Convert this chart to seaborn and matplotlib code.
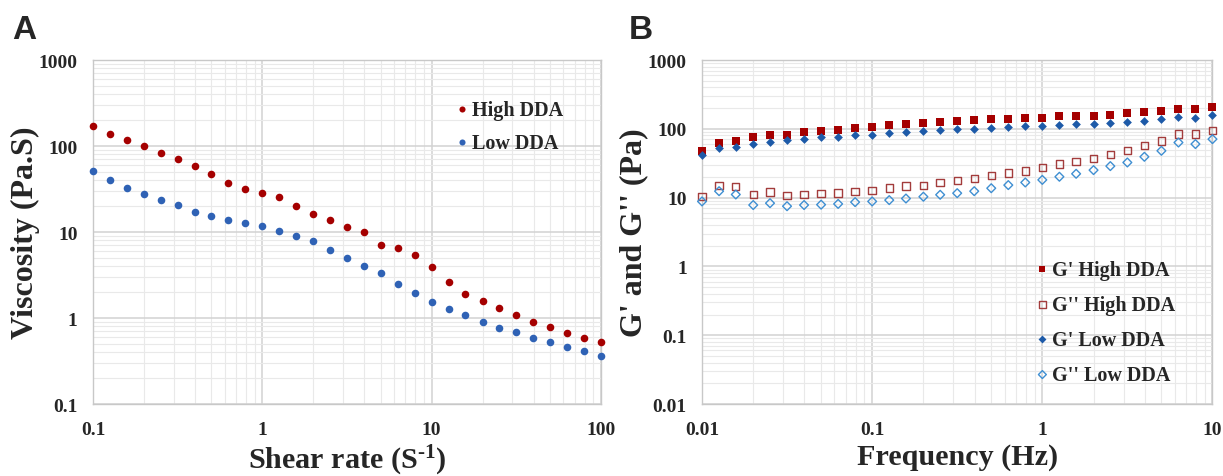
import matplotlib
matplotlib.use('Agg')
import matplotlib.pyplot as plt
from matplotlib.ticker import LogLocator, FuncFormatter, NullFormatter
import seaborn as sns

# Panel A: viscosity vs shear rate
shear_rate = [0.1, 0.126, 0.158, 0.2, 0.251, 0.316, 0.398, 0.501, 0.631, 0.794,
              1, 1.26, 1.58, 2, 2.51, 3.16, 3.98, 5.01, 6.31, 7.94,
              10, 12.6, 15.8, 20, 25.1, 31.6, 39.8, 50.1, 63.1, 79.4, 100]
visc_high = [171, 139, 116, 100, 83, 71, 58, 47, 37.5, 31.4,
             28.4, 25.7, 20, 16.1, 13.8, 11.3, 9.9, 7.1, 6.6, 5.4,
             3.9, 2.65, 1.9, 1.56, 1.3, 1.08, 0.91, 0.78, 0.67, 0.59, 0.52]
visc_low = [51.8, 40.3, 32.7, 27.4, 23.5, 20.4, 17.3, 15.3, 13.7, 12.7,
            11.7, 10.4, 8.9, 7.85, 6.1, 4.95, 4.0, 3.3, 2.47, 1.95,
            1.55, 1.26, 1.07, 0.91, 0.77, 0.69, 0.59, 0.52, 0.46, 0.41, 0.36]

# Panel B: G' and G'' vs frequency
freq = [0.01, 0.0126, 0.0158, 0.02, 0.0251, 0.0316, 0.0398, 0.0501, 0.0631, 0.0794,
        0.1, 0.126, 0.158, 0.2, 0.251, 0.316, 0.398, 0.501, 0.631, 0.794,
        1, 1.26, 1.58, 2, 2.51, 3.16, 3.98, 5.01, 6.31, 7.94, 10]
g1_high = [46.8, 62, 66, 75.7, 80, 82.6, 89.5, 94.5, 97.7, 103,
           107, 113, 117, 122, 126, 131, 134, 138, 138, 143,
           146, 151, 156, 156, 161, 169, 178, 184, 195, 195, 207]
g2_high = [10.4, 15.0, 14.4, 11.0, 12.0, 10.7, 11.1, 11.4, 11.7, 12.4,
           12.8, 13.8, 14.7, 15.0, 16.6, 17.7, 19.0, 20.8, 22.9, 24.5,
           27.1, 30.7, 33.5, 37, 41.9, 47.9, 56.6, 66.3, 84.5, 84.5, 94.5]
g1_low = [41.9, 53, 54.2, 61.1, 65.3, 68.5, 70.8, 74.8, 77.3, 80,
          81.8, 87.5, 90.4, 93.5, 96.7, 99, 99, 102, 106, 109,
          111, 113, 116, 116, 122, 125, 129, 137, 148, 143, 161]
g2_low = [8.8, 12.4, 11.1, 7.8, 8.3, 7.5, 7.8, 7.9, 8.1, 8.6,
          8.8, 9.2, 9.7, 10.3, 11.0, 11.6, 12.4, 13.7, 15.2, 16.6,
          18.1, 20.1, 22.2, 25.1, 28.7, 32.4, 39.2, 47.9, 63.2, 60, 70.8]

RED = '#a50000'
BLUE = '#2f62b5'

sns.set_theme(style='white')
plt.rcParams['font.family'] = ['Liberation Serif', 'DejaVu Serif']
plt.rcParams['font.weight'] = 'bold'
plt.rcParams['axes.labelweight'] = 'bold'
plt.rcParams['mathtext.fontset'] = 'custom'
plt.rcParams['mathtext.rm'] = 'Liberation Serif:bold'
plt.rcParams['mathtext.it'] = 'Liberation Serif:bold'
plt.rcParams['mathtext.bf'] = 'Liberation Serif:bold'

fig = plt.figure(figsize=(12.23, 4.77), dpi=100)
axA = fig.add_axes([0.0760, 0.1509, 0.4154, 0.7212])
axB = fig.add_axes([0.5740, 0.1509, 0.4174, 0.7212])


def style_axis(ax, xlim, ylim):
    ax.set_xscale('log')
    ax.set_yscale('log')
    ax.set_xlim(xlim)
    ax.set_ylim(ylim)
    for a in (ax.xaxis, ax.yaxis):
        a.set_major_locator(LogLocator(base=10, numticks=20))
        a.set_minor_locator(LogLocator(base=10, subs=list(range(2, 10)), numticks=20))
        a.set_major_formatter(FuncFormatter(lambda v, p: f'{v:g}'))
        a.set_minor_formatter(NullFormatter())
    ax.grid(which='major', color='#d2d2d2', lw=1.1)
    ax.grid(which='minor', color='#e9e9e9', lw=0.8)
    ax.set_axisbelow(True)
    ax.tick_params(which='both', length=0)
    ax.tick_params(axis='x', pad=12, labelsize=14)
    ax.tick_params(axis='y', pad=11, labelsize=14)
    for sp in ax.spines.values():
        sp.set_color('#c8c8c8')
        sp.set_linewidth(1)


# --- A ---
sns.scatterplot(x=shear_rate, y=visc_high, color=RED, s=30, linewidth=0,
                label='High DDA', legend=False, ax=axA, clip_on=False, zorder=3)
sns.scatterplot(x=shear_rate, y=visc_low, color=BLUE, s=30, linewidth=0,
                label='Low DDA', legend=False, ax=axA, clip_on=False, zorder=3)
style_axis(axA, (0.1, 100), (0.1, 1000))
axA.set_xlabel(r'Shear rate (S$^{\text{-1}}$)', fontsize=21.7)
axA.set_ylabel('Viscosity (Pa.S)', fontsize=23)
axA.xaxis.set_label_coords(0.5, -0.112)
axA.yaxis.set_label_coords(-0.104, 0.5)
axA.legend(loc='upper left', bbox_to_anchor=(0.71, 0.885), frameon=False,
           fontsize=14.5, handletextpad=0.1, handlelength=0.8, labelspacing=0.65,
           borderaxespad=0, borderpad=0, markerscale=0.8)

# --- B ---
series = [
    (g1_high, "G' High DDA", 's', RED, True),
    (g2_high, "G'' High DDA", 's', '#a33c3c', False),
    (g1_low, "G' Low DDA", 'D', '#1d5aa8', True),
    (g2_low, "G'' Low DDA", 'D', '#3f8fd2', False),
]
for vals, name, mk, col, filled in series:
    sns.scatterplot(x=freq, y=vals, color=col, marker=mk, s=28 if mk == 's' else 20,
                    linewidth=0, label=name, legend=False, ax=axB, clip_on=False, zorder=3)
    if not filled:
        pts = axB.collections[-1]
        pts.set_facecolor('none')
        pts.set_edgecolor(col)
        pts.set_linewidth(1.0)
style_axis(axB, (0.01, 10), (0.01, 1000))
axB.set_xlabel('Frequency (Hz)', fontsize=21.7)
axB.set_ylabel("G' and G'' (Pa)", fontsize=23)
axB.xaxis.set_label_coords(0.5, -0.112)
axB.yaxis.set_label_coords(-0.106, 0.5)
axB.legend(loc='upper left', bbox_to_anchor=(0.651, 0.42), frameon=False,
           fontsize=14.5, handletextpad=0.1, handlelength=0.8, labelspacing=0.75,
           borderaxespad=0, borderpad=0, markerscale=0.9)

fig.text(0.010, 0.937, 'A', family='Liberation Sans', weight='bold', fontsize=24, va='center')
fig.text(0.514, 0.937, 'B', family='Liberation Sans', weight='bold', fontsize=24, va='center')

fig.savefig('out.png', dpi=100)
